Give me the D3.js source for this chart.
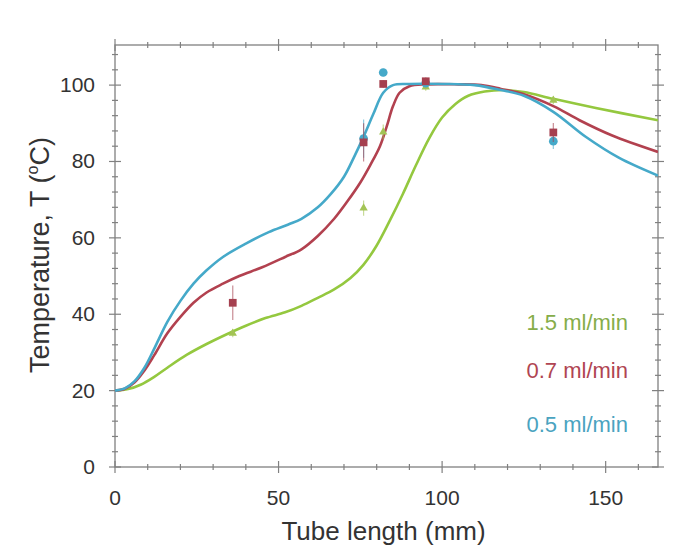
<!DOCTYPE html>
<html>
<head>
<meta charset="utf-8">
<script src="https://cdn.jsdelivr.net/npm/d3@7"></script>
<style>
  body { margin: 0; background: #fff; }
  text { font-family: "Liberation Sans", Arial, sans-serif; fill: #333; }
</style>
</head>
<body>
<svg id="chart" width="679" height="556"></svg>
<script>
// courbes calculees (longueur du tube en mm, temperature en degres C)
const blueFitX = [0, 3, 6, 9, 12, 16, 20, 24, 28, 33, 40, 47, 53, 57, 62, 66, 70, 73, 76, 79, 82, 85, 90, 100, 110, 118, 125, 134, 144, 154, 166];
const blueFitT = [20, 20.6, 22.5, 26, 31, 38, 43.5, 48, 51.5, 55, 58.5, 61.5, 63.5, 65, 68, 71.5, 76, 81, 86.5, 92.5, 98, 100, 100.3, 100.3, 100, 98.7, 97.2, 93, 86.4, 81, 76.3];

const redFitX = [0, 3, 6, 9, 12, 16, 20, 24, 28, 33, 38, 45, 52, 57, 62, 67, 71, 75, 78, 81, 83, 85, 87, 90, 95, 105, 112, 118, 125, 134, 142, 152, 166];
const redFitT = [20, 20.5, 22.2, 25.3, 29.3, 35, 39.3, 43, 45.7, 48, 50, 52.3, 55, 57, 60.5, 65, 69.5, 74.5, 79, 84, 89, 94.5, 98, 99.7, 100.2, 100.2, 100, 99, 97.6, 94.5, 90.8, 86.8, 82.5];

const greenFitX = [0, 4, 8, 12, 16, 22, 28, 34, 40, 46, 52, 57, 62, 67, 72, 76, 80, 84, 88, 92, 96, 100, 104, 108, 113, 119, 125, 134, 147, 166];
const greenFitT = [20, 20.4, 21.6, 23.6, 26, 29.4, 32.2, 34.7, 37, 39, 40.5, 42.2, 44.3, 46.5, 49.5, 53, 58, 64.5, 71.5, 79, 86, 91.5, 95, 97.2, 98.3, 98.7, 98.2, 96.4, 94, 90.8];

// mesures
const measX = [36, 76, 82, 95, 134];
const blueMeas = [null, 86, 103.3, 100.5, 85.3];
const blueErr = [0, 5, 1, 1, 2];
const redMeas = [43, 85, 100.3, 101, 87.6];
const redErr = [4.5, 5, 1, 1, 2.5];
const greenMeas = [35, 67.8, 87.7, 99.5, 96];
const greenErr = [1, 2, 2, 1, 1];

const legendLabels = ["1.5 ml/min", "0.7 ml/min", "0.5 ml/min"];
const xTicks = [0, 50, 100, 150];
const yTicks = [0, 20, 40, 60, 80, 100];

const C_BLUE = "#45a9c9", C_RED = "#b2414f", C_GREEN = "#94c83f";
const C_AXE = "#808080";

const L = 115, T = 45, W = 543, H = 422;
const svg = d3.select("#chart");
const g = svg.append("g").attr("transform", "translate(" + L + "," + T + ")");

const x = d3.scaleLinear().domain([0, 166]).range([0, W]);
const y = d3.scaleLinear().domain([0, 110.5]).range([H, 0]);

svg.append("defs").append("clipPath").attr("id", "clip")
  .append("rect").attr("width", W).attr("height", H);

// cadre
g.append("rect").attr("width", W).attr("height", H)
  .attr("fill", "none").attr("stroke", C_AXE).attr("stroke-width", 1.3);

// graduations (majeures + mineures) sur les 4 cotes
const xMinor = d3.range(0, 167, 10);
const yMinor = d3.range(0, 111, 4);
xMinor.forEach(v => {
  let big = xTicks.includes(v);
  let s = big ? 6 : 3;
  g.append("line").attr("x1", x(v)).attr("x2", x(v)).attr("y1", H - s).attr("y2", H + s)
    .attr("stroke", C_AXE).attr("stroke-width", 1.2);
  g.append("line").attr("x1", x(v)).attr("x2", x(v)).attr("y1", -s).attr("y2", s)
    .attr("stroke", C_AXE).attr("stroke-width", 1.2);
});
yMinor.forEach(v => {
  let big = v % 20 == 0;
  let s = big ? 6 : 3;
  g.append("line").attr("y1", y(v)).attr("y2", y(v)).attr("x1", -s).attr("x2", s)
    .attr("stroke", C_AXE).attr("stroke-width", 1.2);
  g.append("line").attr("y1", y(v)).attr("y2", y(v)).attr("x1", W - s).attr("x2", W + s)
    .attr("stroke", C_AXE).attr("stroke-width", 1.2);
});

g.selectAll(".xl").data(xTicks).enter().append("text")
  .attr("x", d => x(d)).attr("y", H + 38)
  .attr("text-anchor", "middle").attr("font-size", 21).text(d => d);
g.selectAll(".yl").data(yTicks).enter().append("text")
  .attr("x", -20).attr("y", d => y(d) + 7)
  .attr("text-anchor", "end").attr("font-size", 21).text(d => d);

// titres des axes
svg.append("text").attr("x", L + W / 2 - 3).attr("y", 540)
  .attr("text-anchor", "middle").attr("font-size", 26).text("Tube length (mm)");
const yt = svg.append("text").attr("transform", "translate(49,255) rotate(-90)")
  .attr("text-anchor", "middle").attr("font-size", 27);
yt.append("tspan").text("Temperature, T (");
yt.append("tspan").attr("font-size", 16).attr("dy", -11).text("o");
yt.append("tspan").attr("dy", 11).text("C)");

// courbes
function courbe(xs, ts, col) {
  let pts = xs.map((v, i) => [v, ts[i]]);
  let line = d3.line().x(d => x(d[0])).y(d => y(d[1])).curve(d3.curveCatmullRom.alpha(0.5));
  g.append("path").datum(pts).attr("d", line).attr("clip-path", "url(#clip)")
    .attr("fill", "none").attr("stroke", col).attr("stroke-width", 2.6);
}
courbe(greenFitX, greenFitT, C_GREEN);
courbe(redFitX, redFitT, C_RED);
courbe(blueFitX, blueFitT, C_BLUE);

// points de mesure avec barres d'erreur
function mesures(vals, errs, col, forme) {
  measX.forEach((mx, i) => {
    let v = vals[i];
    if (v == null) return;
    g.append("line").attr("x1", x(mx)).attr("x2", x(mx))
      .attr("y1", y(v - errs[i])).attr("y2", y(v + errs[i]))
      .attr("stroke", col).attr("stroke-width", 1.2).attr("opacity", 0.6);
    let sym = d3.symbol().type(forme).size(forme == d3.symbolTriangle ? 30 : 60);
    g.append("path").attr("d", sym)
      .attr("transform", "translate(" + x(mx) + "," + y(v) + ")")
      .attr("fill", col);
  });
}
mesures(greenMeas, greenErr, "#a3c455", d3.symbolTriangle);
mesures(blueMeas, blueErr, C_BLUE, d3.symbolCircle);
mesures(redMeas, redErr, "#a5404f", d3.symbolSquare);

// legende
const legCols = ["#86ad4a", "#b04552", "#4aa3c0"];
const legT = [35.9, 23.3, 9.2];
g.selectAll(".leg").data(legendLabels).enter().append("text")
  .attr("x", 513).attr("y", (d, i) => y(legT[i]))
  .attr("text-anchor", "end").attr("font-size", 22)
  .style("fill", (d, i) => legCols[i])
  .text(d => d);
</script>
</body>
</html>
